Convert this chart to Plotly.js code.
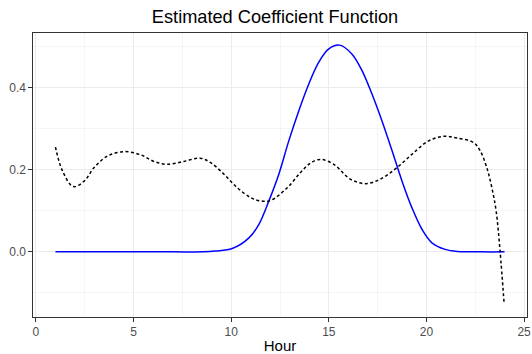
<!DOCTYPE html>
<html>
<head>
<meta charset="utf-8">
<script src="https://cdn.plot.ly/plotly-3.0.1.min.js"></script>
<style>html,body{margin:0;padding:0;background:#fff;}#chart{width:532px;height:354px;}</style>
</head>
<body>
<div id="chart"></div>
<script>
// Estimated coefficient function (blue, solid)
const blueHour = [1, 4, 7, 8.6, 9.2, 10.05, 10.91, 11.42, 11.93, 12.44, 12.95, 13.46, 13.97, 14.48, 15.0, 15.55, 16.19, 16.70, 17.21, 17.72, 18.24, 18.75, 19.26, 19.77, 20.28, 20.96, 21.6, 22.8, 24];
const blueValue = [0, 0, 0, 0, 0.002, 0.008, 0.034, 0.067, 0.124, 0.189, 0.270, 0.343, 0.408, 0.461, 0.494, 0.503, 0.481, 0.441, 0.384, 0.319, 0.246, 0.172, 0.107, 0.055, 0.022, 0.006, 0.001, 0, 0];

// Second curve (black, dashed)
const dashHour = [1.0, 1.36, 1.91, 2.47, 2.98, 3.66, 4.52, 5.37, 6.05, 6.73, 7.58, 8.4, 8.95, 9.63, 10.31, 11.0, 11.5, 12.01, 12.87, 13.55, 14.06, 14.57, 15.25, 16.10, 16.87, 17.64, 18.49, 19.34, 20.11, 20.87, 21.56, 22.41, 22.75, 23.09, 23.35, 23.57, 23.77, 23.98];
const dashValue = [0.255, 0.197, 0.159, 0.172, 0.205, 0.233, 0.244, 0.236, 0.220, 0.213, 0.220, 0.228, 0.217, 0.189, 0.156, 0.132, 0.124, 0.125, 0.156, 0.193, 0.216, 0.225, 0.213, 0.177, 0.166, 0.177, 0.205, 0.241, 0.270, 0.281, 0.277, 0.266, 0.246, 0.205, 0.156, 0.099, 0.002, -0.127];

const titleText = "Estimated Coefficient Function";
const xTitle = "Hour";

const traces = [
  {x: blueHour, y: blueValue, type: 'scatter', mode: 'lines',
   line: {color: '#0000ff', width: 1.5, shape: 'spline', smoothing: 1}, hoverinfo: 'skip'},
  {x: dashHour, y: dashValue, type: 'scatter', mode: 'lines',
   line: {color: '#000000', width: 1.5, dash: '3px,2.5px', shape: 'spline', smoothing: 1}, hoverinfo: 'skip'}
];

const axisCommon = {
  showline: true, mirror: true, linecolor: '#333333', linewidth: 1,
  ticks: 'outside', ticklen: 3.7, tickwidth: 1, tickcolor: '#333333',
  gridcolor: '#ebebeb', gridwidth: 1, zeroline: false,
  tickfont: {family: 'Liberation Sans, Arial, sans-serif', size: 12, color: '#4d4d4d'}
};

const layout = {
  width: 532, height: 354,
  margin: {l: 33, r: 5, t: 33, b: 37},
  paper_bgcolor: '#ffffff', plot_bgcolor: '#ffffff',
  showlegend: false,
  title: {text: titleText, x: 0.517, xanchor: 'center', y: 0.952, yanchor: 'middle',
          font: {family: 'Liberation Sans, Arial, sans-serif', size: 18.2, color: '#000000'}},
  xaxis: Object.assign({}, axisCommon, {
    range: [-0.15, 25.15], tick0: 0, dtick: 5,
    minor: {dtick: 2.5, showgrid: true, gridcolor: '#ebebeb', gridwidth: 0.5},
    title: {text: xTitle, standoff: 4, font: {family: 'Liberation Sans, Arial, sans-serif', size: 15, color: '#000000'}}
  }),
  yaxis: Object.assign({}, axisCommon, {
    range: [-0.1585, 0.5325], tick0: 0, dtick: 0.2, tickformat: '.1f',
    minor: {dtick: 0.1, showgrid: true, gridcolor: '#ebebeb', gridwidth: 0.5}
  })
};

Plotly.newPlot('chart', traces, layout, {staticPlot: true, displayModeBar: false});
</script>
</body>
</html>
